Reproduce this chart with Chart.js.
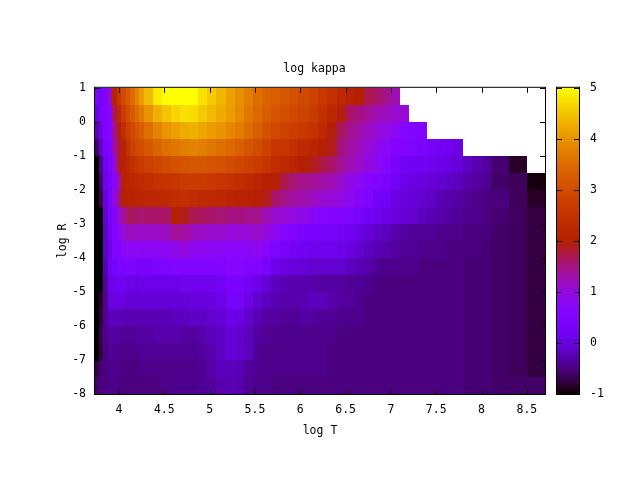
<!DOCTYPE html>
<html>
<head>
<meta charset="utf-8">
<title>log kappa</title>
<script src="https://cdn.jsdelivr.net/npm/chart.js@4/dist/chart.umd.min.js"></script>
<style>
html, body { margin: 0; padding: 0; background: #fff; }
canvas { display: block; }
</style>
</head>
<body>
<canvas id="mycanvas" width="640" height="480"></canvas>
<script>
// cell edges of the opacity table
var logTEdges = [3.735,3.775,3.825,3.875,3.925,3.975,4.025,4.075,4.125,4.175,4.225,4.275,
  4.375,4.475,4.575,4.675,4.775,4.875,4.975,5.075,5.175,5.275,5.375,5.475,5.575,5.675,5.775,5.875,5.975,
  6.1,6.2,6.3,6.4,6.5,6.6,6.7,6.8,6.9,7,7.1,7.2,7.3,7.4,7.5,7.6,7.7,7.8,7.9,8,8.1,8.3,8.5,8.7];
var logREdges = [1,0.5,0,-0.5,-1,-1.5,-2,-2.5,-3,-3.5,-4,-4.5,-5,-5.5,-6,-6.5,-7,-7.5,-8];

var xTicks = [4,4.5,5,5.5,6,6.5,7,7.5,8,8.5];
var yTicks = [-8,-7,-6,-5,-4,-3,-2,-1,0,1];
var cbTicks = [-1,0,1,2,3,4,5];

// log kappa, one list per log R band, top band first
var row01 = [.3,.4,.55,1.2,2.1,2.6,2.95,3.2,3.5,3.8,4.1,
  4.4,4.85,5,5,5,5,4.75,4.55,4.35,4.15,3.95,3.75,3.55,3.4,3.3,3.2,3.1,
  2.95,2.85,2.65,2.45,2.25,2.1,2,1.7,1.6,1.45,1.25,
  null,null,null,null,null,null,null,null,null,null,null,null,null];
var row02 = [.05,.4,.55,.6,1.7,2.2,2.7,3,3.25,3.5,3.7,
  4,4.3,4.5,4.65,4.75,4.7,4.55,4.4,4.25,4.1,3.9,3.65,3.45,3.3,3.15,3.05,2.95,
  2.85,2.7,2.45,2.2,1.95,1.6,1.5,1.4,1.25,1.2,1.1,
  1.05,null,null,null,null,null,null,null,null,null,null,null,null];
var row03 = [-.2,.1,.45,.55,1.4,2,2.4,2.75,2.95,3.15,3.3,
  3.55,3.8,4,4.15,4.25,4.3,4.2,4.1,4,3.85,3.7,3.5,3.3,3.1,2.95,2.85,2.75,
  2.65,2.5,2.3,1.95,1.65,1.45,1.3,1.2,1.05,.95,.8,
  .6,.5,.5,null,null,null,null,null,null,null,null,null,null];
var row04 = [-.6,-.1,.4,.5,1.3,1.8,2.1,2.5,2.8,2.95,3.05,
  3.2,3.4,3.55,3.65,3.75,3.8,3.75,3.65,3.55,3.45,3.3,3.15,3,2.8,2.6,2.55,2.45,
  2.3,2.15,2,1.9,1.5,1.35,1.2,1.05,.9,.75,.55,
  .5,.45,.35,.3,.25,.15,.05,null,null,null,null,null,null];
var row05 = [-1,-.4,.2,.45,.95,1.9,2.1,2.25,2.45,2.6,2.7,
  2.8,2.9,3,3.1,3.15,3.2,3.2,3.15,3.1,3,2.9,2.8,2.7,2.55,2.4,2.3,2.15,
  2,1.9,1.75,1.6,1.4,1.25,1.1,1,.8,.6,.4,
  .25,.2,.2,.15,.1,.05,-.05,-.15,-.25,-.35,-.55,-.85,null];
var row06 = [-1,-.6,.15,.4,.65,1.3,2.1,2.15,2.2,2.3,2.35,
  2.4,2.5,2.55,2.6,2.7,2.7,2.7,2.65,2.55,2.5,2.4,2.3,2.15,2.05,2,1.7,1.55,
  1.45,1.4,1.35,1.25,1.1,.9,.8,.6,.5,.4,.25,
  .1,.05,0,-.05,-.1,-.15,-.2,-.3,-.35,-.4,-.6,-.65,-.95];
var row07 = [-1,-.7,0,.4,.9,1.5,2.05,2.1,2.1,2.15,2.15,
  2.2,2.25,2.3,2.4,2.45,2.35,2.3,2.25,2.2,2.15,2.1,2.1,2,1.9,1.6,1.45,1.35,
  1.3,1.2,1.1,1.05,.95,.85,.6,.5,.25,.2,.05,
  0,-.05,-.1,-.15,-.25,-.3,-.35,-.4,-.45,-.5,-.5,-.65,-.85];
var row08 = [-1,-1,-.1,.35,.5,1.1,1.35,1.65,1.65,1.6,1.55,
  1.6,1.6,1.6,2,1.9,1.7,1.65,1.6,1.55,1.5,1.5,1.45,1.45,1.25,1.1,1.05,.95,
  .9,.7,.6,.55,.5,.45,.35,.25,.15,.05,0,
  -.05,-.1,-.2,-.25,-.3,-.35,-.4,-.45,-.45,-.5,-.55,-.65,-.75];
var row09 = [-1,-1,-.15,.25,.5,.75,1.05,1.2,1.2,1.15,1.15,
  1.15,1.15,1.2,1.4,1.35,1.2,1.15,1.1,1.1,1.05,1.05,1.05,1.15,1,.8,.6,.5,
  .4,.35,.3,.3,.25,.2,.05,-.05,-.15,-.2,-.3,
  -.35,-.4,-.4,-.4,-.45,-.45,-.45,-.5,-.5,-.5,-.6,-.65,-.75];
var row10 = [-1,-1,-.15,.1,.5,.55,.7,.8,.8,.8,.75,
  .8,.8,.8,.9,1,.85,.8,.8,.75,.7,.7,.75,.85,.65,.45,.35,.25,
  .2,.15,.15,.15,.1,.05,-.1,-.2,-.25,-.3,-.35,
  -.4,-.4,-.45,-.45,-.45,-.5,-.5,-.5,-.5,-.55,-.6,-.65,-.75];
var row11 = [-1,-1,-.25,.2,.3,.45,.4,.45,.45,.4,.4,
  .4,.45,.45,.5,.5,.5,.5,.5,.5,.65,.65,.5,.5,.35,.1,.05,0,
  -.05,-.1,-.1,-.1,-.1,-.2,-.25,-.3,-.4,-.45,-.45,
  -.45,-.45,-.5,-.5,-.5,-.5,-.5,-.55,-.55,-.55,-.6,-.65,-.75];
var row12 = [-1,-1,-.35,.1,.15,.2,.2,.1,.1,.05,.1,
  .1,.1,.1,.1,.15,.15,.15,.15,.25,.4,.4,.25,.1,-.05,-.2,-.25,-.3,
  -.3,-.3,-.35,-.35,-.35,-.4,-.4,-.45,-.5,-.5,-.5,
  -.5,-.5,-.5,-.5,-.5,-.5,-.5,-.55,-.55,-.55,-.6,-.65,-.75];
var row13 = [-1,-.85,-.4,0,.05,.05,0,-.05,-.05,-.05,-.05,
  -.05,-.05,-.05,-.05,-.05,0,0,0,.1,.3,.3,.1,-.1,-.2,-.25,-.3,-.3,
  -.25,-.2,-.2,-.3,-.35,-.35,-.45,-.5,-.5,-.5,-.5,
  -.5,-.5,-.5,-.5,-.5,-.5,-.5,-.55,-.55,-.55,-.6,-.65,-.75];
var row14 = [-1,-.8,-.4,-.2,-.2,-.2,-.25,-.25,-.25,-.25,-.25,
  -.25,-.25,-.25,-.2,-.2,-.15,-.15,-.1,-.05,.1,.05,-.1,-.25,-.35,-.35,-.4,-.4,
  -.35,-.35,-.4,-.4,-.45,-.45,-.45,-.5,-.5,-.5,-.5,
  -.5,-.5,-.5,-.5,-.5,-.5,-.5,-.55,-.55,-.55,-.6,-.65,-.75];
var row15 = [-1,-.7,-.45,-.35,-.35,-.35,-.4,-.4,-.4,-.35,-.35,
  -.35,-.3,-.3,-.3,-.35,-.35,-.3,-.2,-.15,-.05,-.1,-.2,-.35,-.4,-.45,-.45,-.45,
  -.45,-.45,-.45,-.45,-.5,-.5,-.5,-.5,-.5,-.5,-.5,
  -.5,-.5,-.5,-.5,-.5,-.5,-.5,-.55,-.55,-.55,-.6,-.65,-.75];
var row16 = [-1,-.75,-.5,-.4,-.4,-.45,-.45,-.45,-.45,-.45,-.4,
  -.4,-.4,-.4,-.4,-.4,-.4,-.35,-.3,-.15,-.05,-.1,-.2,-.4,-.45,-.45,-.45,-.45,
  -.45,-.45,-.45,-.5,-.5,-.5,-.5,-.5,-.5,-.5,-.5,
  -.5,-.5,-.5,-.5,-.5,-.5,-.5,-.55,-.55,-.55,-.6,-.65,-.75];
var row17 = [-.75,-.55,-.5,-.45,-.45,-.45,-.5,-.5,-.5,-.5,-.45,
  -.45,-.45,-.45,-.45,-.45,-.45,-.4,-.3,-.2,-.2,-.25,-.35,-.4,-.45,-.45,-.45,-.45,
  -.45,-.45,-.45,-.5,-.5,-.5,-.5,-.5,-.5,-.5,-.5,
  -.5,-.5,-.5,-.5,-.5,-.5,-.5,-.55,-.55,-.55,-.6,-.65,-.75];
var row18 = [-.6,-.5,-.5,-.45,-.45,-.5,-.5,-.5,-.5,-.5,-.5,
  -.5,-.5,-.45,-.45,-.45,-.45,-.4,-.35,-.3,-.25,-.3,-.4,-.45,-.45,-.5,-.5,-.5,
  -.5,-.5,-.5,-.5,-.5,-.5,-.5,-.5,-.5,-.5,-.5,
  -.5,-.5,-.5,-.5,-.5,-.5,-.5,-.55,-.55,-.55,-.6,-.6,-.6];

var rows = [row01,row02,row03,row04,row05,row06,row07,row08,row09,
  row10,row11,row12,row13,row14,row15,row16,row17,row18];

var FONT = {family: '"DejaVu Sans Mono", monospace', size: 11.5};

// gnuplot rgbformulae 7,5,15
function paletteColor(v) {
  var t = Math.max(0, Math.min(1, (v + 1) / 6));
  var r = Math.sqrt(t);
  var g = t * t * t;
  var b = Math.max(0, Math.sin(2 * Math.PI * t));
  return 'rgb(' + Math.round(r * 255) + ',' + Math.round(g * 255) + ',' + Math.round(b * 255) + ')';
}

var cells = [];
rows.forEach(function(row, j) {
  row.forEach(function(v, i) {
    if (v === null) return;
    cells.push({
      x: (logTEdges[i] + logTEdges[i + 1]) / 2,
      y: (logREdges[j] + logREdges[j + 1]) / 2,
      v: v, i: i, j: j
    });
  });
});

var heatPlugin = {
  id: 'heat',
  beforeDatasetsDraw: function(chart) {
    var ctx = chart.ctx, xs = chart.scales.x, ys = chart.scales.y;
    ctx.save();
    chart.data.datasets[0].data.forEach(function(c) {
      var x0 = Math.round(xs.getPixelForValue(logTEdges[c.i]));
      var x1 = Math.round(xs.getPixelForValue(logTEdges[c.i + 1]));
      var y0 = Math.round(ys.getPixelForValue(logREdges[c.j]));
      var y1 = Math.round(ys.getPixelForValue(logREdges[c.j + 1]));
      ctx.fillStyle = paletteColor(c.v);
      ctx.fillRect(x0, y0, x1 - x0, y1 - y0);
    });
    ctx.restore();
  },
  afterDatasetsDraw: function(chart) {
    var ctx = chart.ctx, a = chart.chartArea;
    var xs = chart.scales.x, ys = chart.scales.y, cb = chart.scales.cb;
    var barL = 557, barR = 579, t = 5;
    ctx.save();
    // colour box
    for (var py = Math.round(cb.top); py < Math.round(cb.bottom); py++) {
      ctx.fillStyle = paletteColor(cb.getValueForPixel(py + 0.5));
      ctx.fillRect(barL, py, barR - barL, 1);
    }
    ctx.fillStyle = '#000';
    // inward ticks, mirrored on both sides
    xs.ticks.forEach(function(k) {
      var px = Math.round(xs.getPixelForValue(k.value));
      ctx.fillRect(px, a.top, 1, t);
      ctx.fillRect(px, a.bottom - t, 1, t);
    });
    ys.ticks.forEach(function(k) {
      var py = Math.round(ys.getPixelForValue(k.value));
      ctx.fillRect(a.left, py, t, 1);
      ctx.fillRect(a.right - t, py, t, 1);
    });
    cb.ticks.forEach(function(k) {
      var py = Math.round(cb.getPixelForValue(k.value));
      ctx.fillRect(barL, py, t, 1);
      ctx.fillRect(barR - t, py, t, 1);
    });
    // frames
    ctx.strokeStyle = '#000';
    ctx.lineWidth = 1;
    ctx.strokeRect(a.left - 0.5, a.top - 0.5, a.right - a.left + 1, a.bottom - a.top + 1);
    ctx.strokeRect(barL - 0.5, a.top - 0.5, barR - barL + 1, a.bottom - a.top + 1);
    ctx.restore();
  }
};

function plainLabel(v) { return String(v); }

new Chart(document.getElementById('mycanvas'), {
  type: 'scatter',
  data: {
    datasets: [{label: 'log kappa', data: cells, pointRadius: 0, pointHoverRadius: 0}]
  },
  options: {
    responsive: false,
    animation: false,
    events: [],
    layout: {padding: {left: 0, right: 11, top: 0, bottom: 0}},
    plugins: {
      legend: {display: false},
      tooltip: {enabled: false},
      title: {
        display: true,
        text: 'log kappa',
        color: '#000',
        font: {family: FONT.family, size: FONT.size, weight: 'normal'},
        padding: {top: 62, bottom: 12}
      }
    },
    scales: {
      x: {
        type: 'linear',
        min: 3.735,
        max: 8.7,
        afterBuildTicks: function(axis) { axis.ticks = xTicks.map(function(v) { return {value: v}; }); },
        afterFit: function(axis) { axis.height = 86; },
        grid: {display: false, drawTicks: false},
        border: {display: false},
        ticks: {color: '#000', font: FONT, padding: 9, maxRotation: 0, autoSkip: false, callback: plainLabel},
        title: {display: true, text: 'log T', color: '#000', font: FONT, padding: {top: 0, bottom: 42}}
      },
      y: {
        type: 'linear',
        min: -8,
        max: 1,
        afterBuildTicks: function(axis) { axis.ticks = yTicks.map(function(v) { return {value: v}; }); },
        afterFit: function(axis) { axis.width = 95; },
        grid: {display: false, drawTicks: false},
        border: {display: false},
        ticks: {color: '#000', font: FONT, padding: 9, autoSkip: false, callback: plainLabel},
        title: {display: true, text: 'log R', color: '#000', font: FONT, padding: {top: 56, bottom: 0}}
      },
      cb: {
        type: 'linear',
        axis: 'y',
        position: 'right',
        min: -1,
        max: 5,
        afterBuildTicks: function(axis) { axis.ticks = cbTicks.map(function(v) { return {value: v}; }); },
        afterFit: function(axis) { axis.width = 84; },
        grid: {display: false, drawTicks: false},
        border: {display: false},
        ticks: {color: '#000', font: FONT, padding: 45, autoSkip: false, callback: plainLabel}
      }
    }
  },
  plugins: [heatPlugin]
});
</script>
</body>
</html>
